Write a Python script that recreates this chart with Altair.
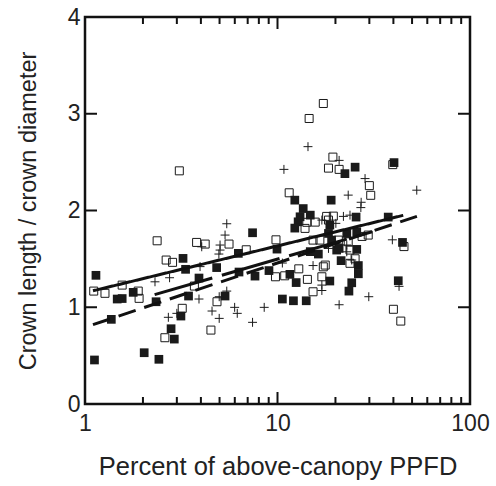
import altair as alt
import pandas as pd

# --- data (x = % of above-canopy PPFD, y = crown length / crown diameter)
filled_x = [1.14, 1.37, 1.47, 1.56, 1.78, 2.03, 1.12, 2.42, 2.34, 2.80, 2.91, 3.15, 3.23, 3.33, 3.45,
            3.91, 4.83, 5.34, 6.26, 6.31, 7.42, 7.64, 9.03, 9.94, 10.6, 12.1, 14.1, 11.6, 12.5, 12.3,
            13.6, 13.1, 14.8, 12.8, 12.3, 14.8, 16.3, 18.4, 19.1, 20.3, 19.0, 18.7, 18.7, 21.4, 20.9,
            22.4, 25.3, 22.9, 25.8, 25.6, 25.8, 26.3, 26.3, 24.3, 23.5, 37.6, 40.3, 44.6, 42.4]
filled_y = [1.33, 0.875, 1.085, 1.09, 1.154, 0.53, 0.455, 0.462, 1.057, 0.778, 0.671, 0.909, 1.505, 1.392, 1.116,
            1.302, 1.41, 1.116, 1.557, 1.364, 1.77, 1.322, 1.379, 1.601, 1.085, 1.067, 1.067, 1.34, 1.255, 2.107,
            2.02, 1.935, 1.952, 1.883, 1.818, 1.575, 1.55, 1.763, 1.694, 1.591, 2.107, 1.849, 1.271, 1.482, 1.608,
            2.381, 2.448, 1.763, 1.78, 1.932, 1.598, 1.431, 1.346, 1.253, 1.167, 1.932, 2.495, 1.67, 1.274]

open_x = [1.11, 1.27, 1.56, 1.89, 1.91, 2.37, 3.09, 2.64, 2.85, 3.80, 4.21, 5.60, 6.88, 3.70, 4.85,
          3.20, 4.51, 2.60, 9.82, 9.76, 10.9, 12.9, 14.3, 11.5, 14.6, 17.3, 19.4, 18.4, 20.9, 30.0,
          30.5, 14.2, 15.7, 13.9, 18.0, 18.4, 19.5, 15.3, 16.6, 20.7, 23.3, 23.8, 27.5, 29.6, 25.3,
          23.8, 17.3, 17.7, 17.0, 15.3, 39.7, 45.4, 40.0, 43.7]
open_y = [1.167, 1.144, 1.229, 1.167, 1.092, 1.687, 2.41, 1.488, 1.464, 1.67, 1.653, 1.653, 1.594, 1.219, 1.057,
          0.989, 0.764, 0.685, 1.697, 1.315, 1.325, 1.397, 1.288, 2.183, 2.951, 3.106, 2.552, 2.438, 2.425, 2.257,
          2.157, 1.878, 1.88, 1.815, 1.939, 1.901, 1.942, 1.694, 1.694, 1.694, 1.677, 1.591, 1.732, 1.746, 1.501,
          1.454, 1.418, 1.436, 1.315, 1.16, 2.474, 1.627, 0.979, 0.857]

plus_x = [2.31, 2.75, 3.96, 3.91, 4.04, 5.03, 5.03, 4.96, 5.34, 5.45, 4.98, 5.45, 2.71, 3.00, 4.57,
          4.98, 5.99, 6.18, 7.42, 8.53, 10.6, 10.8, 14.4, 20.9, 28.5, 23.3, 27.2, 27.1, 22.0, 23.8,
          20.1, 17.0, 18.4, 19.9, 22.9, 22.9, 15.3, 17.0, 17.0, 20.9, 29.8, 24.3, 39.5, 42.8, 52.9]
plus_y = [1.263, 1.305, 1.42, 1.085, 1.625, 1.643, 1.591, 1.55, 1.746, 1.863, 1.109, 1.167, 0.896, 0.937, 0.961,
          0.885, 0.999, 0.937, 0.844, 0.999, 1.457, 2.425, 2.66, 2.518, 2.33, 2.159, 2.085, 2.03, 1.939, 1.952,
          1.867, 1.901, 1.608, 1.66, 1.643, 1.573, 1.431, 1.229, 1.173, 1.026, 1.109, 1.488, 1.697, 1.216, 2.21]

# regression lines (end points)
fit_names = ["solid", "long dash", "short dash"]
fit_x0 = [1.1, 1.1, 2.3]
fit_x1 = [45.0, 53.0, 31.0]
fit_y0 = [1.17, 0.82, 1.13]
fit_y1 = [1.95, 1.94, 1.78]

# axis ticks / labels
x_minor = [2, 3, 4, 5, 6, 7, 8, 9, 20, 30, 40, 50, 60, 70, 80, 90]
x_major = [10]
y_major = [1, 2, 3]
x_labels = [1, 10, 100]
y_labels = [0, 1, 2, 3, 4]

W, H = 385, 387
FONT = "Liberation Sans"

xs = alt.Scale(type="log", domain=[1, 100], nice=False)
ys = alt.Scale(domain=[0, 4], nice=False)

xaxis = alt.Axis(values=x_labels, format="d", domain=False, ticks=False, grid=False,
                 labelFlush=False, labelFontSize=23, labelFont=FONT, labelColor="#222",
                 labelPadding=8, title="Percent of above-canopy PPFD", titleFont=FONT,
                 titleFontSize=25.5, titleFontWeight="normal", titleColor="#222", titlePadding=19)
yaxis = alt.Axis(values=y_labels, format="d", domain=False, ticks=False, grid=False,
                 labelFontSize=23, labelFont=FONT, labelColor="#222", labelPadding=5,
                 title="Crown length / crown diameter", titleFont=FONT, titleFontSize=23.5,
                 titleFontWeight="normal", titleColor="#222", titlePadding=27)


def X(f):
    return alt.X(f, scale=xs, axis=xaxis)


def Y(f):
    return alt.Y(f, scale=ys, axis=yaxis)


pts = pd.concat([
    pd.DataFrame({"x": filled_x, "y": filled_y, "g": "filled"}),
    pd.DataFrame({"x": open_x, "y": open_y, "g": "open"}),
    pd.DataFrame({"x": plus_x, "y": plus_y, "g": "plus"}),
])

filled = alt.Chart(pts[pts.g == "filled"]).mark_square(size=76, color="#1a1a1a", opacity=1).encode(
    x=X("x:Q"), y=Y("y:Q"))
opened = alt.Chart(pts[pts.g == "open"]).mark_square(size=64, filled=False, stroke="#1a1a1a",
                                                     strokeWidth=1, opacity=1).encode(
    x=X("x:Q"), y=Y("y:Q"))
plus = alt.Chart(pts[pts.g == "plus"]).mark_point(shape="M-1,0L1,0M0,-1L0,1", size=80, filled=False,
                                                  stroke="#1a1a1a", strokeWidth=1, opacity=1).encode(
    x=X("x:Q"), y=Y("y:Q"))

fits = pd.DataFrame({
    "name": fit_names * 2,
    "x": fit_x0 + fit_x1,
    "y": fit_y0 + fit_y1,
})
lines = alt.Chart(fits).mark_line(color="#111", strokeWidth=3).encode(
    x=X("x:Q"),
    y=Y("y:Q"),
    detail="name:N",
    strokeDash=alt.StrokeDash("name:N", scale=alt.Scale(domain=fit_names,
                                                         range=[[1, 0], [18, 9], [60, 10]]),
                              legend=None),
)


def xticks(vals, length):
    d = pd.DataFrame({"x": vals})
    b = alt.Chart(d).mark_rule(color="#111", strokeWidth=2).encode(
        x=X("x:Q"), y=alt.value(H), y2=alt.value(H - length))
    t = alt.Chart(d).mark_rule(color="#111", strokeWidth=2).encode(
        x=X("x:Q"), y=alt.value(0), y2=alt.value(length))
    return [b, t]


def yticks(vals, length):
    d = pd.DataFrame({"y": vals})
    l = alt.Chart(d).mark_rule(color="#111", strokeWidth=2).encode(
        y=Y("y:Q"), x=alt.value(0), x2=alt.value(length))
    r = alt.Chart(d).mark_rule(color="#111", strokeWidth=2).encode(
        y=Y("y:Q"), x=alt.value(W), x2=alt.value(W - length))
    return [l, r]


chart = alt.layer(
    opened, filled, plus, lines,
    *xticks(x_minor, 7), *xticks(x_major, 12), *yticks(y_major, 12),
).properties(
    width=W, height=H,
    autosize=alt.AutoSizeParams(type="none"),
    padding={"left": 85, "top": 17, "right": 26, "bottom": 82},
    background="white",
).configure_view(stroke="#111", strokeWidth=2.5)

chart.save("out.html", embed_options={"renderer": "svg", "actions": False})
